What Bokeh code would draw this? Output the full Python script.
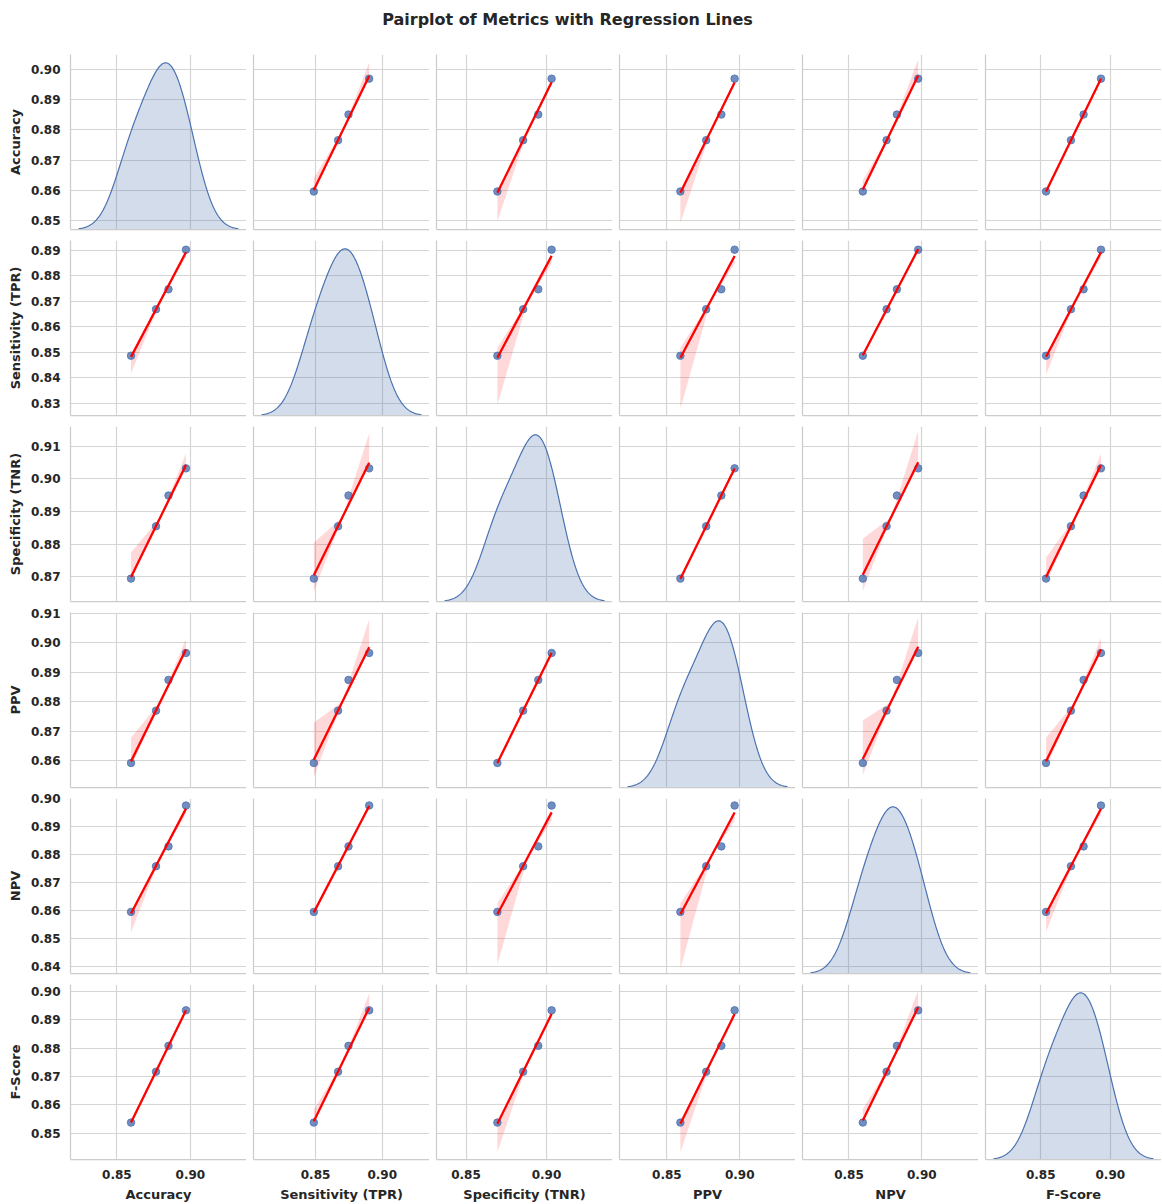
import numpy as np
from bokeh.plotting import figure
from bokeh.layouts import gridplot, column
from bokeh.models import Range1d, FixedTicker, PrintfTickFormatter
from bokeh.core.properties import value
from bokeh.embed import file_html
from bokeh.resources import INLINE

# ---------------- data ----------------
title_text = "Pairplot of Metrics with Regression Lines"
metrics = ["Accuracy", "Sensitivity (TPR)", "Specificity (TNR)", "PPV", "NPV", "F-Score"]

accuracy    = [0.8596, 0.8766, 0.8851, 0.8970]
sensitivity = [0.8487, 0.8669, 0.8747, 0.8902]
specificity = [0.8695, 0.8855, 0.8949, 0.9032]
ppv         = [0.8593, 0.8770, 0.8874, 0.8965]
npv         = [0.8595, 0.8758, 0.8829, 0.8975]
f_score     = [0.8538, 0.8717, 0.8808, 0.8933]

x_tick_values = [0.85, 0.90]
accuracy_ticks    = [0.85, 0.86, 0.87, 0.88, 0.89, 0.90]
sensitivity_ticks = [0.83, 0.84, 0.85, 0.86, 0.87, 0.88, 0.89]
specificity_ticks = [0.87, 0.88, 0.89, 0.90, 0.91]
ppv_ticks         = [0.86, 0.87, 0.88, 0.89, 0.90, 0.91]
npv_ticks         = [0.84, 0.85, 0.86, 0.87, 0.88, 0.89, 0.90]
f_score_ticks     = [0.85, 0.86, 0.87, 0.88, 0.89, 0.90]

# y limits of each row of panels
row_limits = [(0.8470, 0.9050), (0.8253, 0.8938), (0.8625, 0.9160),
              (0.8510, 0.9102), (0.8375, 0.9000), (0.8408, 0.9024)]

# bootstrap confidence band: offsets from the fitted line
# [below at left end, above at left end, below at right end, above at right end]
ci_accuracy    = [None, [-0.0005, 0.0040, -0.0005, 0.0045], [-0.0095, 0.0005, -0.0005, 0.0010],
                  [-0.0100, 0.0005, -0.0005, 0.0010], [-0.0010, 0.0030, -0.0005, 0.0054],
                  [-0.0008, 0.0008, -0.0008, 0.0008]]
ci_sensitivity = [[-0.0065, 0.0008, -0.0020, 0.0005], None, [-0.0185, 0.0040, -0.0030, 0.0005],
                  [-0.0200, 0.0040, -0.0030, 0.0005], [-0.0006, 0.0006, -0.0006, 0.0006],
                  [-0.0070, 0.0008, -0.0020, 0.0005]]
ci_specificity = [[-0.0010, 0.0075, -0.0010, 0.0035], [-0.0050, 0.0100, -0.0010, 0.0090], None,
                  [-0.0006, 0.0006, -0.0006, 0.0006], [-0.0050, 0.0110, -0.0010, 0.0095],
                  [-0.0020, 0.0060, -0.0010, 0.0035]]
ci_ppv         = [[-0.0020, 0.0080, -0.0010, 0.0037], [-0.0060, 0.0125, -0.0010, 0.0095],
                  [-0.0006, 0.0006, -0.0006, 0.0006], None, [-0.0055, 0.0130, -0.0010, 0.0100],
                  [-0.0020, 0.0080, -0.0010, 0.0040]]
ci_npv         = [[-0.0067, 0.0008, -0.0020, 0.0005], [-0.0006, 0.0006, -0.0006, 0.0006],
                  [-0.0180, 0.0040, -0.0030, 0.0005], [-0.0195, 0.0040, -0.0030, 0.0005], None,
                  [-0.0065, 0.0008, -0.0020, 0.0005]]
ci_f_score     = [[-0.0007, 0.0007, -0.0007, 0.0007], [-0.0008, 0.0040, -0.0005, 0.0050],
                  [-0.0100, 0.0005, -0.0005, 0.0010], [-0.0100, 0.0005, -0.0005, 0.0010],
                  [-0.0010, 0.0040, -0.0005, 0.0060], None]

columns = [accuracy, sensitivity, specificity, ppv, npv, f_score]
row_ticks = [accuracy_ticks, sensitivity_ticks, specificity_ticks, ppv_ticks, npv_ticks, f_score_ticks]
ci_rows = [ci_accuracy, ci_sensitivity, ci_specificity, ci_ppv, ci_npv, ci_f_score]

# ---------------- style ----------------
BLUE = "#4c72b0"
TEXT = "#262626"
SPINE = "#cccccc"
GRID = "#d5d5d5"
FONT = "DejaVu Sans"

FW, FH = 176, 175
LEFT, GAP_X = 70, 7
TITLE_H = 40
TOP0, GAP_TOP, GAP_BOT, BOTTOM = 14, 9, 2, 43
N = len(metrics)


def kde_curve(vals, npts=200):
    v = np.asarray(vals, dtype=float)
    bw = v.std(ddof=1) * len(v) ** (-1.0 / 5.0)
    xs = np.linspace(v.min() - 3 * bw, v.max() + 3 * bw, npts)
    dens = np.exp(-0.5 * ((xs[:, None] - v[None, :]) / bw) ** 2).sum(axis=1) / (len(v) * bw * np.sqrt(2 * np.pi))
    return xs, dens


kdes = [kde_curve(v) for v in columns]
col_limits = []
for xs, _ in kdes:
    span = xs[-1] - xs[0]
    col_limits.append((xs[0] - 0.05 * span, xs[-1] + 0.05 * span))


def style_axis(ax, ticks, show_labels, label):
    ax.axis_line_color = SPINE
    ax.axis_line_width = 1.25
    ax.major_tick_line_color = None
    ax.minor_tick_line_color = None
    ax.major_tick_out = 0
    ax.major_tick_in = 0
    if show_labels:
        ax.ticker = FixedTicker(ticks=ticks)
        ax.formatter = PrintfTickFormatter(format="%.2f")
        ax.major_label_text_font = FONT
        ax.major_label_text_font_size = "12px"
        ax.major_label_text_font_style = "bold"
        ax.major_label_text_color = TEXT
        ax.major_label_standoff = 10
        ax.axis_label = label
        ax.axis_label_text_font = FONT
        ax.axis_label_text_font_size = "13px"
        ax.axis_label_text_font_style = "bold"
        ax.axis_label_text_color = TEXT
        ax.axis_label_standoff = 5
    else:
        # spine only: no ticks, hence no tick labels
        ax.ticker = FixedTicker(ticks=[])
        ax.major_label_standoff = 0


rows = []
for r in range(N):
    row = []
    for c in range(N):
        p = figure(frame_width=FW, frame_height=FH,
                   x_range=Range1d(*col_limits[c]), y_range=Range1d(*row_limits[r]),
                   output_backend="svg", toolbar_location=None,
                   min_border_left=LEFT if c == 0 else GAP_X, min_border_right=0,
                   min_border_top=TOP0 if r == 0 else GAP_TOP,
                   min_border_bottom=BOTTOM if r == N - 1 else GAP_BOT,
                   outline_line_color=None, background_fill_color="white",
                   border_fill_color="white")
        style_axis(p.xaxis[0], x_tick_values, r == N - 1, metrics[c])
        style_axis(p.yaxis[0], row_ticks[r], c == 0, metrics[r])
        p.xgrid.ticker = FixedTicker(ticks=x_tick_values)
        p.ygrid.ticker = FixedTicker(ticks=row_ticks[r])
        p.grid.grid_line_color = GRID
        p.grid.grid_line_width = 1.2

        if r == c:
            xs, dens = kdes[c]
            p.extra_y_ranges = {"kde": Range1d(0, dens.max() * 1.05)}
            p.varea(x=xs, y1=np.zeros_like(dens), y2=dens, y_range_name="kde",
                    fill_color=BLUE, fill_alpha=0.25)
            p.line(x=xs, y=dens, y_range_name="kde", line_color=BLUE, line_width=1.2)
        else:
            x = np.asarray(columns[c])
            y = np.asarray(columns[r])
            slope, intercept = np.polyfit(x, y, 1)
            xmin, xmax, xm = x.min(), x.max(), x.mean()
            gx = np.linspace(xmin, xmax, 61)
            gl = slope * gx + intercept
            lo_l, hi_l, lo_r, hi_r = ci_rows[r][c]
            tl = np.clip((xm - gx) / (xm - xmin), 0, 1)
            tr = np.clip((gx - xm) / (xmax - xm), 0, 1)
            lo = np.minimum(lo_l * tl + lo_r * tr, -0.0003)
            hi = np.maximum(hi_l * tl + hi_r * tr, 0.0003)
            p.varea(x=gx, y1=gl + lo, y2=gl + hi, fill_color="red", fill_alpha=0.15)
            p.scatter(x=x, y=y, size=7.5, fill_color=BLUE, line_color=BLUE,
                      fill_alpha=0.8, line_alpha=0.8)
            p.line(x=[xmin, xmax], y=[slope * xmin + intercept, slope * xmax + intercept],
                   line_color="red", line_width=2.3)
        row.append(p)
    rows.append(row)

grid = gridplot(rows, toolbar_location=None)

title_fig = figure(width=1134, height=TITLE_H, x_range=Range1d(0, 1), y_range=Range1d(0, 1),
                   output_backend="svg", toolbar_location=None,
                   x_axis_location=None, y_axis_location=None, min_border=0,
                   outline_line_color=None, background_fill_color="white",
                   border_fill_color="white")
title_fig.grid.visible = False
title_fig.text(x=[0.5], y=[1 - 19.0 / TITLE_H], text=[title_text], text_align="center",
               text_baseline="middle", text_font=value(FONT), text_font_style="bold",
               text_font_size="16px", text_color=TEXT)

layout = column(title_fig, grid)
open("out.html", "w").write(file_html(layout, INLINE))
